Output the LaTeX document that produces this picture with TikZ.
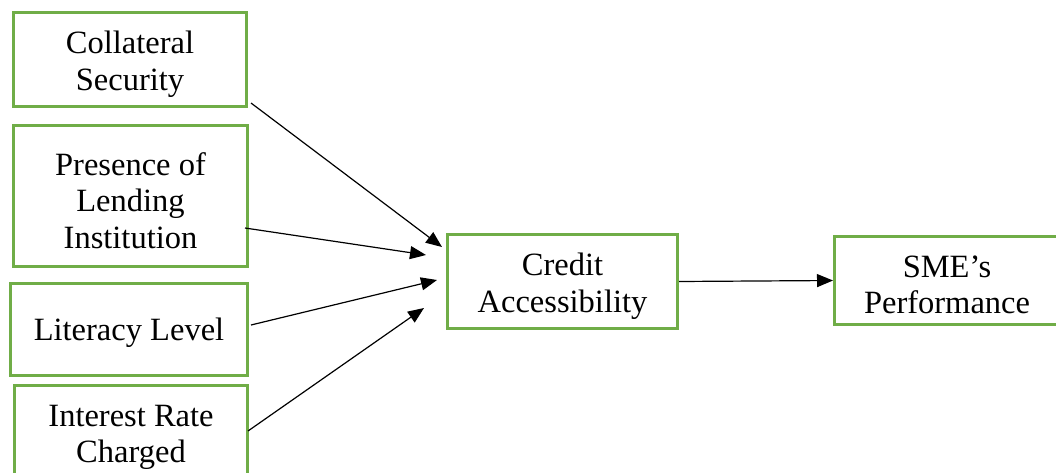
\documentclass[tikz,border=0pt]{standalone}
\usepackage{fontspec}
\setmainfont{Liberation Serif}
\usetikzlibrary{arrows.meta,calc}
\definecolor{boxgreen}{RGB}{112,173,71}
\begin{document}
\begin{tikzpicture}[x=1pt,y=-1pt,
  factor/.style={draw=boxgreen, line width=3pt, fill=white, inner sep=0pt},
  caption/.style={align=center, inner sep=0pt, yshift=-4.5pt,
    font=\fontsize{32.5}{36.5}\selectfont},
  link/.style={line width=1.2pt, -{Triangle[length=16pt,width=13pt]}}]
  \useasboundingbox (0,0) rectangle (1056,473);
  \clip (0,0) rectangle (1056,473);

  % independent factors
  \node[factor, minimum width=233, minimum height=94] (coll) at (130,59.5) {};
  \node[caption] (coll-t) at (coll) {Collateral\\Security};
  \node[factor, minimum width=234, minimum height=141] (pres) at (130.5,196) {};
  \node[caption] (pres-t) at (pres) {Presence of\\Lending\\Institution};
  \node[factor, minimum width=237, minimum height=92] (lit) at (129,329.5) {};
  \node[caption, yshift=1.5pt] (lit-t) at (lit) {Literacy Level};
  \node[factor, minimum width=233, minimum height=95] (rate) at (131,433) {};
  \node[caption] (rate-t) at (rate) {Interest Rate\\Charged};

  % mediator and outcome
  \node[factor, minimum width=230, minimum height=94] (credit) at (562.5,281.5) {};
  \node[caption] (credit-t) at (credit) {Credit\\Accessibility};
  \node[factor, minimum width=225, minimum height=88] (sme) at (947,280.5) {};
  \node[caption] (sme-t) at (sme) {SME’s\\Performance};

  % arrow tips in front of the credit box
  \coordinate (t1) at (442,247);
  \coordinate (t2) at (426,255);
  \coordinate (t3) at (437,280);
  \coordinate (t4) at (424,308);

  \draw[link] ($(coll.south east)+(3,-5)$) -- (t1);
  \draw[link] ($(pres.east)+(-4,32)$) -- (t2);
  \draw[link] ($(lit.east)+(2,-4.5)$) -- (t3);
  \draw[link] ($(rate.east)+(-1,-2)$) -- (t4);
  \draw[link] (credit.east) -- (sme.west);
\end{tikzpicture}
\end{document}
